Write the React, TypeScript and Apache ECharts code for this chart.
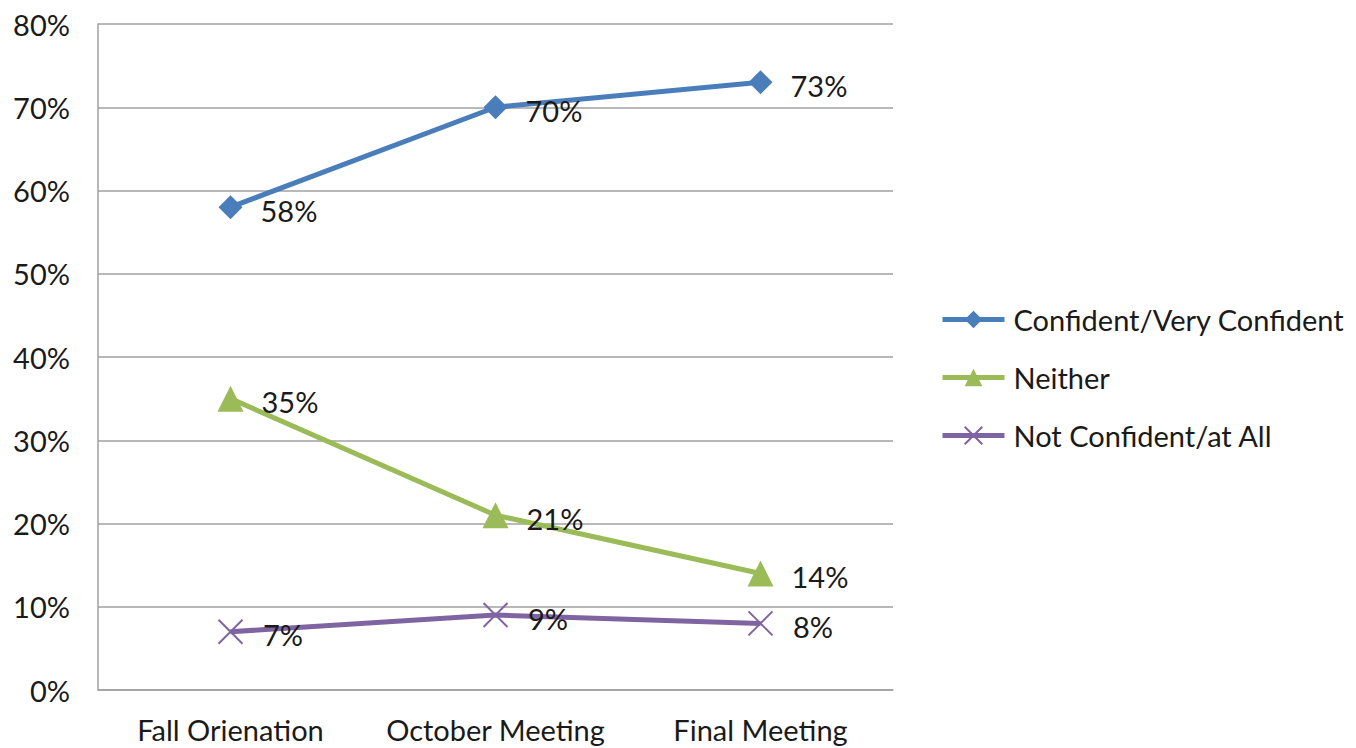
import React, { useEffect, useRef } from "react";
import * as echarts from "echarts";

const categories = ["Fall Orienation", "October Meeting", "Final Meeting"];
const confident = [58, 70, 73];
const neither = [35, 21, 14];
const notConfident = [7, 9, 8];
const seriesNames = ["Confident/Very Confident", "Neither", "Not Confident/at All"];

const FONT = "Lato, 'Open Sans', sans-serif";
const FS = 29;

export default function App() {
  const ref = useRef<HTMLDivElement>(null);
  useEffect(() => {
    if (!ref.current) return;
    const chart = echarts.init(ref.current, null, { renderer: "svg" });
    const label = {
      show: true,
      position: "right" as const,
      distance: 18,
      formatter: (p: any) => p.value + "%",
      color: "#1a1a1a",
      fontSize: FS,
      fontFamily: FONT,
      offset: [0, 3],
    };
    chart.setOption({
      animation: false,
      backgroundColor: "#fff",
      grid: { left: 98, right: 463, top: 24, bottom: 58, containLabel: false },
      legend: {
        orient: "vertical",
        left: 935,
        top: 300,
        itemWidth: 62,
        itemHeight: 22,
        itemGap: 29,
        lineStyle: { width: 5 },
        textStyle: { fontSize: FS, fontFamily: FONT, color: "#1a1a1a", padding: [0, 0, 0, 4] },
        data: seriesNames,
      },
      xAxis: {
        type: "category",
        data: categories,
        boundaryGap: true,
        axisLine: { show: true, lineStyle: { color: "#a0a0a0", width: 1.5 } },
        axisTick: { show: false },
        axisLabel: {
          interval: 0,
          hideOverlap: false,
          fontSize: FS,
          fontFamily: FONT,
          color: "#1a1a1a",
          margin: 25,
        },
      },
      yAxis: {
        type: "value",
        min: 0,
        max: 80,
        interval: 10,
        axisLine: { show: true, lineStyle: { color: "#a0a0a0", width: 1.5 } },
        axisTick: { show: false },
        splitLine: { lineStyle: { color: "#a0a0a0", width: 1.5 } },
        axisLabel: {
          fontSize: FS,
          fontFamily: FONT,
          color: "#1a1a1a",
          margin: 28,
          formatter: "{value}%",
        },
      },
      series: [
        {
          name: seriesNames[0],
          type: "line",
          data: confident,
          symbol: "diamond",
          symbolSize: 24,
          color: "#4a7ebb",
          lineStyle: { color: "#4a7ebb", width: 5 },
          itemStyle: { color: "#4a7ebb" },
          label,
        },
        {
          name: seriesNames[1],
          type: "line",
          data: neither,
          symbol: "triangle",
          symbolSize: 26,
          color: "#9bbb59",
          lineStyle: { color: "#9bbb59", width: 5 },
          itemStyle: { color: "#9bbb59" },
          label,
        },
        {
          name: seriesNames[2],
          type: "line",
          data: notConfident,
          symbol: "path://M0,0L10,10M10,0L0,10",
          symbolSize: 24,
          color: "#8064a2",
          lineStyle: { color: "#8064a2", width: 5 },
          itemStyle: { color: "none", borderColor: "#8064a2", borderWidth: 2 },
          label,
        },
      ],
    });
    return () => chart.dispose();
  }, []);
  return (
    <div
      ref={ref}
      style={{ position: "fixed", left: 0, top: 0, width: 1356, height: 748 }}
    />
  );
}
